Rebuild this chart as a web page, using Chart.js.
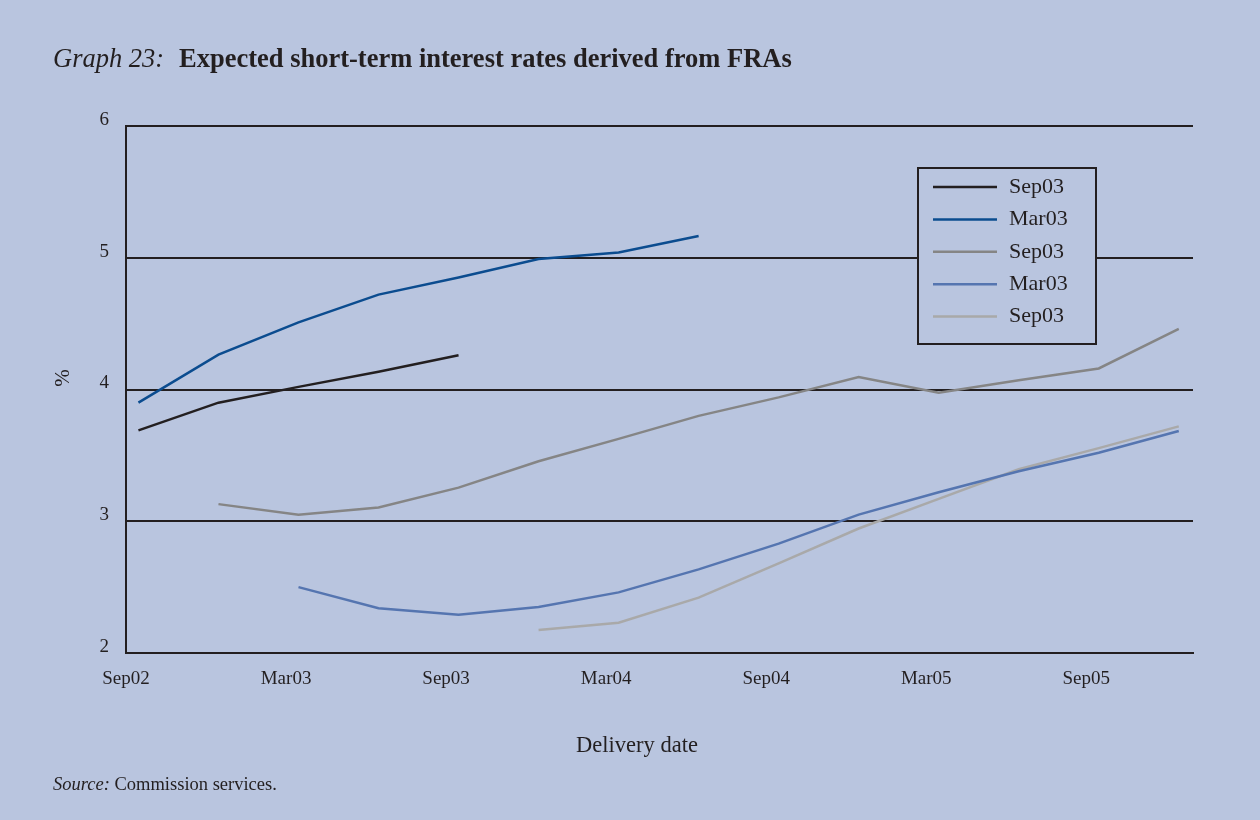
<!DOCTYPE html>
<html>
<head>
<meta charset="utf-8">
<script src="https://cdn.jsdelivr.net/npm/chart.js@4.4.0/dist/chart.umd.min.js"></script>
<style>
  html, body { margin: 0; padding: 0; background: #b9c5df; }
  #wrap { position: relative; width: 1260px; height: 820px; }
</style>
</head>
<body>
<div id="wrap"><canvas id="fra" width="1260" height="820"></canvas></div>
<script>
// FRA delivery dates (mid-month, quarterly)
const deliveryDates = ['2002-09-15', '2002-12-15', '2003-03-15', '2003-06-15', '2003-09-15',
  '2003-12-15', '2004-03-15', '2004-06-15', '2004-09-15', '2004-12-15',
  '2005-03-15', '2005-06-15', '2005-09-15', '2005-12-15'];

const tickLabels = ['Sep02', 'Mar03', 'Sep03', 'Mar04', 'Sep04', 'Mar05', 'Sep05'];
const seriesNames = ['Sep03', 'Mar03', 'Sep03', 'Mar03', 'Sep03'];
const seriesColors = ['#231f20', '#0b4c8f', '#858585', '#5575b0', '#a9a9a9'];

const blackSeries = [3.69, 3.90, 4.02, 4.135, 4.26, null, null, null, null, null, null, null, null, null];
const darkBlueSeries = [3.90, 4.265, 4.51, 4.72, 4.85, 4.99, 5.04, 5.165, null, null, null, null, null, null];
const graySeries = [null, 3.13, 3.05, 3.105, 3.255, 3.455, 3.625, 3.80, 3.94, 4.095, 3.975, 4.07, 4.16, 4.46];
const midBlueSeries = [null, null, 2.50, 2.34, 2.29, 2.35, 2.46, 2.635, 2.83, 3.05, 3.22, 3.38, 3.52, 3.685];
const lightGraySeries = [null, null, null, null, null, 2.175, 2.23, 2.42, 2.68, 2.945, 3.17, 3.395, 3.555, 3.72];

const allSeries = [blackSeries, darkBlueSeries, graySeries, midBlueSeries, lightGraySeries];

// months elapsed since the start of Sep 2002
function monthIndex(iso) {
  const [y, m, d] = iso.split('-').map(Number);
  return (y - 2002) * 12 + (m - 9) + (d - 1) / 30;
}
const xs = deliveryDates.map(monthIndex);

const ink = '#231f20';
const serif = '"Liberation Serif", "DejaVu Serif", serif';

const datasets = allSeries.map((vals, i) => ({
  label: seriesNames[i],
  data: vals.map((v, j) => ({ x: xs[j], y: v })),
  borderColor: seriesColors[i],
  borderWidth: 2.5,
  pointRadius: 0,
  tension: 0,
  spanGaps: false,
  fill: false
}));

// titles, source line and boxed legend
const decor = {
  id: 'decor',
  afterDraw(chart) {
    const ctx = chart.ctx;
    const area = chart.chartArea;
    ctx.save();
    ctx.fillStyle = ink;
    ctx.textBaseline = 'alphabetic';

    ctx.font = 'italic 26.5px ' + serif;
    ctx.textAlign = 'left';
    ctx.fillText('Graph 23:', 53, 67);
    ctx.font = 'bold 26.5px ' + serif;
    ctx.fillText('Expected short-term interest rates derived from FRAs', 179, 67);

    ctx.font = '22.5px ' + serif;
    ctx.textAlign = 'center';
    ctx.fillText('Delivery date', 637, 752);

    ctx.save();
    ctx.translate(69, 378);
    ctx.rotate(-Math.PI / 2);
    ctx.font = '21px ' + serif;
    ctx.textAlign = 'center';
    ctx.fillText('%', 0, 0);
    ctx.restore();

    ctx.textAlign = 'left';
    ctx.font = 'italic 18.5px ' + serif;
    ctx.fillText('Source:', 53, 790);
    const w = ctx.measureText('Source:').width;
    ctx.font = '18.5px ' + serif;
    ctx.fillText(' Commission services.', 53 + w, 790);

    // legend
    const bx = area.right - 275, by = area.top + 42, bw = 178, bh = 176;
    ctx.fillStyle = '#b9c5df';
    ctx.fillRect(bx, by, bw, bh);
    ctx.strokeStyle = ink;
    ctx.lineWidth = 2;
    ctx.strokeRect(bx, by, bw, bh);
    ctx.font = '22px ' + serif;
    ctx.textBaseline = 'middle';
    chart.data.datasets.forEach((ds, i) => {
      const y = by + 19 + i * 32.4;
      ctx.strokeStyle = ds.borderColor;
      ctx.lineWidth = 2.5;
      ctx.beginPath();
      ctx.moveTo(bx + 15, y);
      ctx.lineTo(bx + 79, y);
      ctx.stroke();
      ctx.fillStyle = ink;
      ctx.fillText(ds.label, bx + 91, y);
    });
    ctx.restore();
  }
};

new Chart(document.getElementById('fra'), {
  type: 'line',
  data: { datasets },
  options: {
    responsive: false,
    animation: false,
    events: [],
    layout: { padding: { left: 0, top: 126, right: 67, bottom: 0 } },
    plugins: { legend: { display: false }, tooltip: { enabled: false } },
    scales: {
      x: {
        type: 'linear',
        min: 0,
        max: 40,
        afterFit(scale) { scale.height = 167; },
        grid: { display: false, drawTicks: false },
        border: { display: true, color: ink, width: 2 },
        ticks: {
          stepSize: 6,
          includeBounds: false,
          autoSkip: false,
          maxRotation: 0,
          padding: 15,
          color: ink,
          font: { family: serif, size: 19 },
          callback: v => (v % 6 === 0 ? tickLabels[v / 6] || '' : '')
        }
      },
      y: {
        min: 2,
        max: 6,
        afterFit(scale) { scale.width = 126; },
        grid: { color: ink, lineWidth: 2, drawTicks: false },
        border: { display: true, color: ink, width: 2 },
        ticks: {
          stepSize: 1,
          padding: 17,
          labelOffset: -6,
          color: ink,
          font: { family: serif, size: 19 }
        }
      }
    }
  },
  plugins: [decor]
});
</script>
</body>
</html>
